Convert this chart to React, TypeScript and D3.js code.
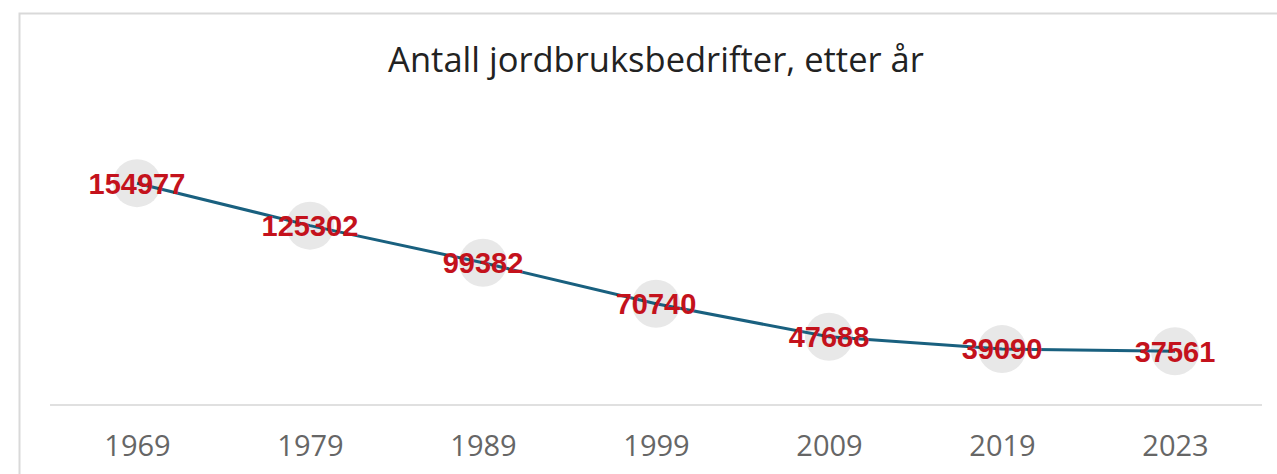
import { useEffect, useRef } from 'react';
import * as d3 from 'd3';

const years = ['1969', '1979', '1989', '1999', '2009', '2019', '2023'];
const farms = [154977, 125302, 99382, 70740, 47688, 39090, 37561];
const title = 'Antall jordbruksbedrifter, etter år';

const W = 1277;
const H = 474;

export default function App() {
  const svgRef = useRef<SVGSVGElement>(null);

  useEffect(() => {
    if (!svgRef.current) return;
    const svg = d3.select(svgRef.current);
    svg.selectAll('*').remove();

    const data = years.map((y, i) => ({ year: y, value: farms[i] }));

    // card frame (top + left edges only visible)
    svg.append('rect').attr('width', W).attr('height', H).attr('fill', '#fff');
    svg.append('path')
      .attr('d', `M19.5,${H} V13.5 H${W}`)
      .attr('fill', 'none')
      .attr('stroke', '#d9d9d9')
      .attr('stroke-width', 2);

    svg.append('text')
      .attr('x', 656)
      .attr('y', 72)
      .attr('text-anchor', 'middle')
      .attr('font-family', '"Open Sans", sans-serif')
      .attr('font-size', 34.5)
      .attr('fill', '#222')
      .text(title);

    const x = d3.scalePoint<string>().domain(years).range([137, 1175]);
    const y = d3.scaleLinear().domain([0, 160000]).range([405, 176]);

    // x axis
    const axis = svg.append('g')
      .attr('transform', 'translate(0,405)')
      .call(d3.axisBottom(x).tickSize(0).tickPadding(30));
    axis.select('.domain').remove();
    axis.append('line')
      .attr('x1', 50).attr('x2', 1262)
      .attr('stroke', '#e0e0e0').attr('stroke-width', 2);
    axis.selectAll('.tick text')
      .attr('font-family', '"Open Sans", sans-serif')
      .attr('font-size', 29)
      .attr('fill', '#666');

    const line = d3.line<{ year: string; value: number }>()
      .x(d => x(d.year) || 0)
      .y(d => y(d.value));

    svg.append('g').selectAll('circle')
      .data(data)
      .join('circle')
      .attr('cx', d => x(d.year) || 0)
      .attr('cy', d => y(d.value))
      .attr('r', 24)
      .attr('fill', '#e8e8e8');

    svg.append('path')
      .datum(data)
      .attr('fill', 'none')
      .attr('stroke', '#19607f')
      .attr('stroke-width', 3)
      .attr('d', line);

    svg.append('g').selectAll('text')
      .data(data)
      .join('text')
      .attr('x', d => x(d.year) || 0)
      .attr('y', d => y(d.value))
      .attr('dy', '0.36em')
      .attr('text-anchor', 'middle')
      .attr('font-family', '"Liberation Sans", Arial, sans-serif')
      .attr('font-weight', 'bold')
      .attr('font-size', 29)
      .attr('fill', '#c4121c')
      .text(d => String(d.value));
  }, []);

  return (
    <div style={{ position: 'fixed', left: 0, top: 0 }}>
      <svg ref={svgRef} width={W} height={H} style={{ display: 'block' }}></svg>
    </div>
  );
}
